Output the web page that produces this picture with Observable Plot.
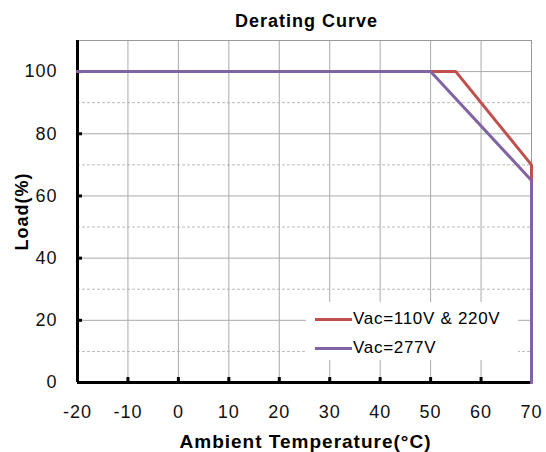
<!DOCTYPE html>
<html><head><meta charset="utf-8">
<script src="https://cdn.jsdelivr.net/npm/d3@7"></script>
<script src="https://cdn.jsdelivr.net/npm/@observablehq/plot@0.6"></script>
<style>
body{margin:0;background:#fff;font-family:"Liberation Sans",Arial,sans-serif;}
#wrap{position:relative;width:546px;height:452px;}
svg text{letter-spacing:1px;}
#legend{position:absolute;left:306px;top:302px;width:212px;height:58px;background:#fff;font-size:17px;letter-spacing:0.7px;color:#000;}
.row{position:absolute;left:9px;display:flex;align-items:center;}
.sw{width:37px;height:3px;margin-right:1px;}
</style></head>
<body><div id="wrap"><div id="legend"></div></div>
<script>
const title = "Derating Curve";
const xLabel = "Ambient Temperature(°C)";
const yLabel = "Load(%)";
const xTicks = [-20,-10,0,10,20,30,40,50,60,70];
const yTicks = [0,20,40,60,80,100];
const yMinor = [10,30,50,70,90];
const xDomain = [-20,70];
const yDomain = [0,110];
const seriesNames = ["Vac=110V & 220V","Vac=277V"];
const seriesColors = ["#c0504d","#8064a2"];
const temp110 = [-20,55,70,70];
const load110 = [100,100,70,0];
const temp277 = [-20,50,70,70];
const load277 = [100,100,65,0];

const data = [
  ...temp110.map((t,i)=>({s:seriesNames[0],x:t,y:load110[i]})),
  ...temp277.map((t,i)=>({s:seriesNames[1],x:t,y:load277[i]}))
];
const font = "Liberation Sans, Arial, sans-serif";
const fmt = d => String(d);
const chart = Plot.plot({
  width:546, height:452,
  marginLeft:77, marginRight:15, marginTop:40, marginBottom:70,
  style:{fontFamily:font, fontSize:"18px", color:"#000", background:"#fff"},
  x:{domain:xDomain},
  y:{domain:yDomain},
  color:{domain:seriesNames, range:seriesColors},
  marks:[
    Plot.gridY(yMinor,{stroke:"#bbb",strokeOpacity:1,strokeDasharray:"3,2",strokeWidth:1}),
    Plot.gridX(xTicks,{stroke:"#aaa",strokeOpacity:1,strokeWidth:1}),
    Plot.gridY(yTicks,{stroke:"#aaa",strokeOpacity:1,strokeWidth:1}),
    Plot.frame({stroke:"#999",strokeWidth:1}),
    Plot.axisX(xTicks,{tickSize:0,tickPadding:23,label:null,fontSize:18,tickFormat:fmt,fill:"#111"}),
    Plot.axisX(xTicks,{tickSize:-5,tickFormat:()=>"",strokeWidth:3,label:null}),
    Plot.axisY(yTicks,{tickSize:0,tickPadding:20,label:null,fontSize:18,tickFormat:fmt,fill:"#111"}),
    Plot.axisY(yTicks,{tickSize:-5,tickFormat:()=>"",strokeWidth:3,label:null}),
    Plot.ruleX([xDomain[0]],{stroke:"#000",strokeWidth:3}),
    Plot.ruleY([yDomain[0]],{stroke:"#000",strokeWidth:3}),
    Plot.line(data,{x:"x",y:"y",z:"s",stroke:"s",strokeWidth:3}),
    Plot.text([title],{frameAnchor:"top",dy:-26,dx:2,fontWeight:"bold",fontSize:18}),
    Plot.text([xLabel],{frameAnchor:"bottom",dy:65,dx:1,fontWeight:"bold",fontSize:19}),
    Plot.text([yLabel],{frameAnchor:"left",textAnchor:"middle",dx:-55,rotate:-90,fontWeight:"bold",fontSize:18})
  ]
});
document.getElementById("wrap").prepend(chart);
const lg = document.getElementById("legend");
seriesNames.forEach((n,i)=>{
  const r = document.createElement("div");
  r.className="row";
  r.style.top = (7 + i*29) + "px";
  r.innerHTML = `<div class="sw" style="background:${seriesColors[i]}"></div><span>${n}</span>`;
  lg.appendChild(r);
});
</script></body></html>
